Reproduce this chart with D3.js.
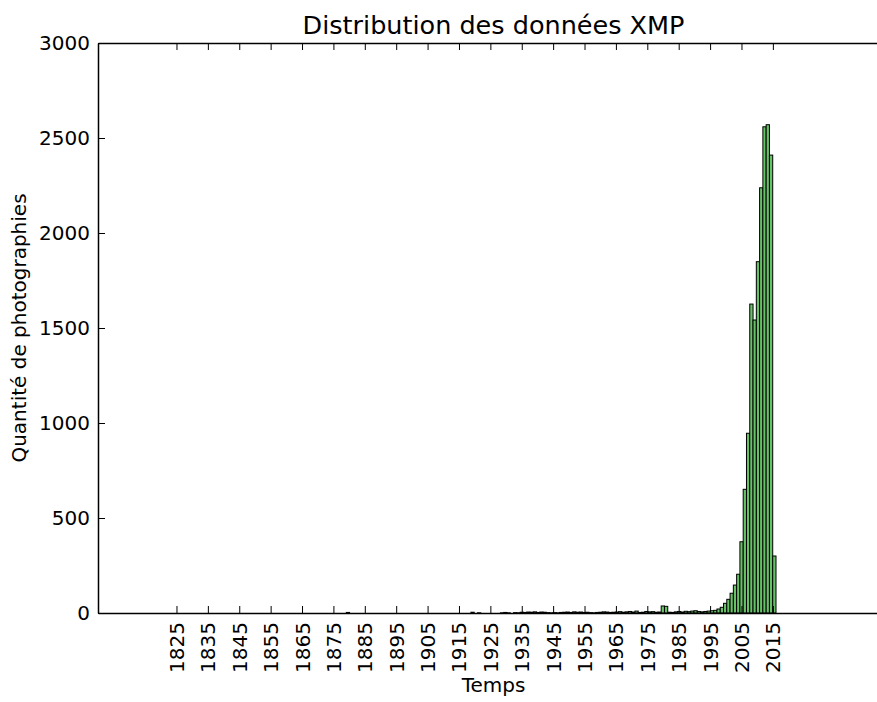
<!DOCTYPE html>
<html>
<head>
<meta charset="utf-8">
<script src="https://cdn.jsdelivr.net/npm/d3@7"></script>
<style>
body { margin: 0; background: #fff; overflow: hidden; }
svg { overflow: hidden; }
text { font-family: "DejaVu Sans", sans-serif; fill: #000; }
</style>
</head>
<body>
<div id="chart"></div>
<script>
// histogram bins run from binStart to binEnd, one count per bin
const binStart = 1825.8;
const binEnd = 2016;
const counts = [
	0, 0, 0, 0, 0, 0, 0, 0, 0, 0,
	0, 0, 0, 0, 0, 0, 0, 0, 0, 0,
	0, 0, 0, 0, 0, 0, 0, 0, 0, 0,
	0, 0, 0, 0, 0, 0, 0, 0, 0, 0,
	0, 0, 0, 0, 0, 0, 0, 0, 0, 0,
	0, 3, 0, 0, 0, 0, 0, 0, 0, 0,
	0, 0, 0, 0, 0, 0, 0, 0, 0, 0,
	0, 0, 0, 0, 0, 0, 0, 0, 0, 0,
	0, 0, 0, 0, 0, 0, 0, 0, 0, 4,
	0, 1, 0, 0, 0, 0, 0, 0, 1, 3,
	1, 0, 2, 1, 4, 3, 5, 4, 6, 3,
	5, 4, 2, 1, 2, 1, 3, 4, 5, 3,
	6, 4, 5, 3, 4, 2, 1, 3, 4, 6,
	5, 3, 4, 5, 7, 4, 6, 8, 5, 10,
	3, 4, 8, 6, 7, 4, 5, 37, 35, 4,
	3, 6, 8, 5, 9, 7, 10, 12, 8, 6,
	8, 10, 12, 14, 21, 30, 51, 72, 104, 147,
	204, 375, 651, 946, 1626, 1542, 1849, 2238, 2559, 2570,
	2410, 300
];
const xTickYears = [1825, 1835, 1845, 1855, 1865, 1875, 1885, 1895, 1905, 1915,
	1925, 1935, 1945, 1955, 1965, 1975, 1985, 1995, 2005, 2015];
const yTickValues = [0, 500, 1000, 1500, 2000, 2500, 3000];
const xDomain = [1800, 2052];
const yDomain = [0, 3000];

// the plot's right edge falls just outside the 877px window
const margin = {top: 43, right: -12, bottom: 89, left: 98};
const W = 877, H = 702;
const width = W - margin.left - margin.right;
const height = H - margin.top - margin.bottom;
const binWidth = (binEnd - binStart) / counts.length;
const tickLen = 7;

const svg = d3.select('#chart').append('svg')
	.attr('width', W)
	.attr('height', H)
	.style('display', 'block');

const g = svg.append('g')
	.attr('transform', `translate(${margin.left}, ${margin.top})`);

const xScale = d3.scaleLinear().domain(xDomain).range([0, width]);
const yScale = d3.scaleLinear().domain(yDomain).range([height, 0]);

// bars
g.selectAll('.bar')
	.data(counts)
	.enter()
	.append('rect')
	.attr('class', 'bar')
	.attr('x', (d, i) => xScale(binStart + i * binWidth))
	.attr('width', (d, i) => xScale(binStart + (i + 1) * binWidth) - xScale(binStart + i * binWidth))
	.attr('y', d => yScale(d))
	.attr('height', d => yScale(0) - yScale(d))
	.attr('fill', '#67c167')
	.attr('stroke', '#000')
	.attr('stroke-width', 1);

const styleAxis = sel => {
	sel.attr('font-size', 20).attr('font-family', '"DejaVu Sans", sans-serif');
	sel.select('.domain').attr('stroke', '#000').attr('stroke-width', 1.5);
	sel.selectAll('.tick line').attr('stroke', '#000').attr('stroke-width', 1);
};

const xAxis = d3.axisBottom(xScale)
	.tickValues(xTickYears)
	.tickFormat(d3.format('d'))
	.tickSizeInner(-tickLen)
	.tickSizeOuter(0);

g.append('g')
	.attr('class', 'x axis')
	.attr('transform', `translate(0, ${height})`)
	.call(xAxis)
	.call(styleAxis)
	.selectAll('text')
	.attr('transform', 'rotate(-90)')
	.attr('x', -9)
	.attr('y', 0)
	.attr('dy', '0.35em')
	.attr('text-anchor', 'end');

g.append('g')
	.attr('class', 'x axis top')
	.call(d3.axisTop(xScale).tickValues(xTickYears).tickFormat('').tickSizeInner(-tickLen).tickSizeOuter(0))
	.call(styleAxis);

g.append('g')
	.attr('class', 'y axis')
	.call(d3.axisLeft(yScale).tickValues(yTickValues).tickFormat(d3.format('d')).tickSizeInner(-tickLen).tickSizeOuter(0).tickPadding(8))
	.call(styleAxis);

// titles
svg.append('text')
	.attr('x', margin.left + width / 2)
	.attr('y', 34)
	.attr('text-anchor', 'middle')
	.attr('font-size', 25.5)
	.text('Distribution des données XMP');

svg.append('text')
	.attr('x', margin.left + width / 2)
	.attr('y', 692)
	.attr('text-anchor', 'middle')
	.attr('font-size', 20)
	.text('Temps');

svg.append('text')
	.attr('transform', `translate(26, ${margin.top + height / 2}) rotate(-90)`)
	.attr('text-anchor', 'middle')
	.attr('font-size', 20)
	.text('Quantité de photographies');
</script>
</body>
</html>
